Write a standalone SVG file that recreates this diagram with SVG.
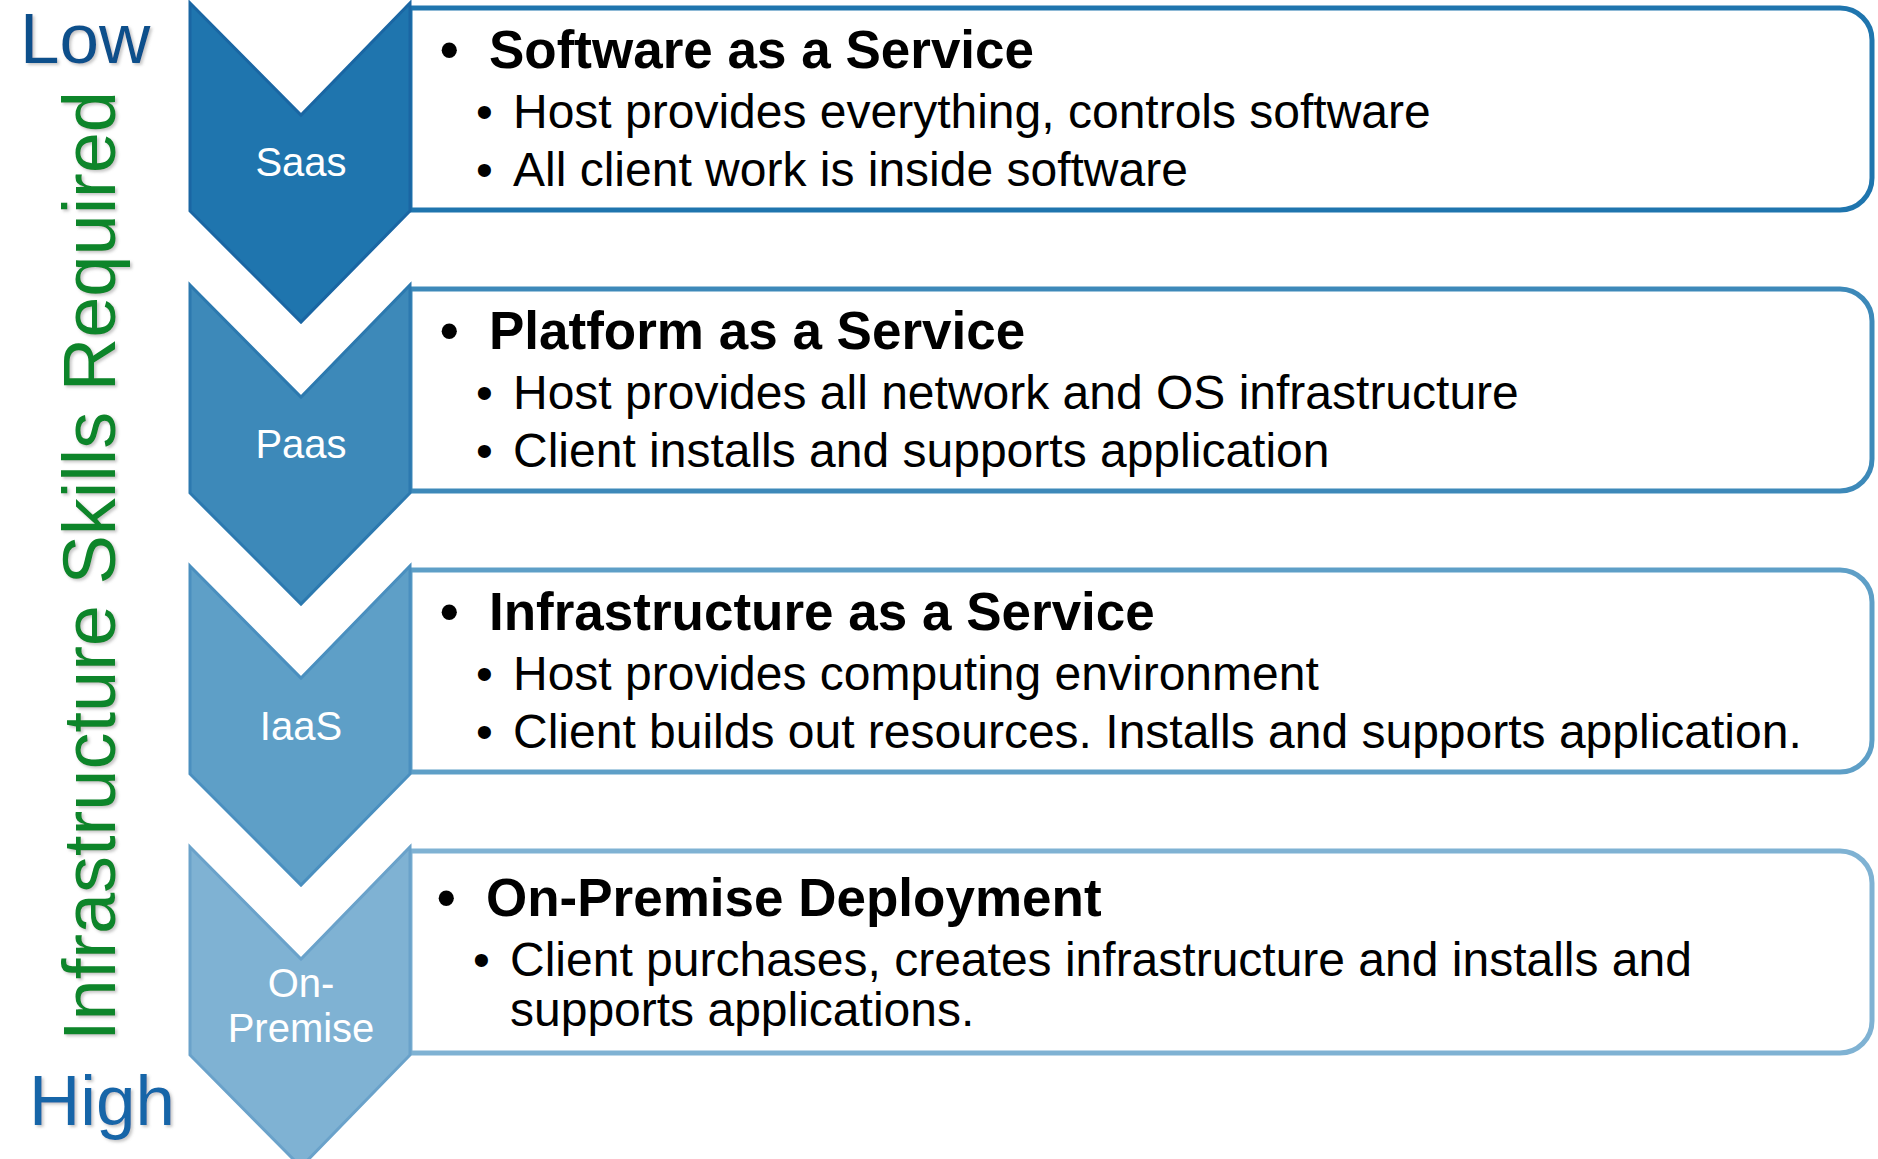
<svg xmlns="http://www.w3.org/2000/svg" width="1878" height="1159" viewBox="0 0 1878 1159">
  <defs>
    <filter id="shadow" x="-10%" y="-10%" width="130%" height="130%">
      <feDropShadow dx="2" dy="2" stdDeviation="1.5" flood-color="#808080" flood-opacity="0.45"/>
    </filter>
  </defs>
  <style>
    .box { fill: #ffffff; stroke-width: 5; }
    .chev { stroke-width: 3; stroke-linejoin: miter; }
    .clabel { font-family: "Liberation Sans", Arial, sans-serif; font-size: 40px; fill: #ffffff; text-anchor: middle; }
    .head { font-family: "Liberation Sans", Arial, sans-serif; font-size: 53px; font-weight: bold; fill: #000000; }
    .sub { font-family: "Liberation Sans", Arial, sans-serif; font-size: 48px; fill: #000000; }
    .side { font-family: "Liberation Sans", Arial, sans-serif; }
  </style>
  <rect x="0" y="0" width="1878" height="1159" fill="#ffffff"/>

  <g id="axis-labels" filter="url(#shadow)">
    <text class="side" x="20" y="63" font-size="71" fill="#0d4f8b">Low</text>
    <text class="side" x="29" y="1125" font-size="71" fill="#1565a8">High</text>
    <text class="side" transform="translate(115,566) rotate(-90)" text-anchor="middle" font-size="74" fill="#0a8529">Infrastructure Skills Required</text>
  </g>

  <g id="connectors"></g>

  <g id="saas">
    <path class="box" stroke="#1f75ae" d="M410,8 H1840 A32,32 0 0 1 1872,40 V178 A32,32 0 0 1 1840,210 H410 Z"/>
    <polygon class="chev" fill="#1f75ae" stroke="#1a66a3" points="190,3 301,115 410,3 410,211 301,322 190,211"/>
    <text class="clabel" x="301" y="176">Saas</text>
    <text class="head" x="440" y="68">•</text>
    <text class="head" x="489" y="68">Software as a Service</text>
    <text class="sub" x="476" y="128">•</text>
    <text class="sub" x="513" y="128">Host provides everything, controls software</text>
    <text class="sub" x="476" y="186">•</text>
    <text class="sub" x="513" y="186">All client work is inside software</text>
  </g>

  <g id="paas">
    <path class="box" stroke="#3d89b9" d="M410,289 H1840 A32,32 0 0 1 1872,321 V459 A32,32 0 0 1 1840,491 H410 Z"/>
    <polygon class="chev" fill="#3d89b9" stroke="#2c79af" points="190,285 301,397 410,285 410,493 301,604 190,493"/>
    <text class="clabel" x="301" y="458">Paas</text>
    <text class="head" x="440" y="349">•</text>
    <text class="head" x="489" y="349">Platform as a Service</text>
    <text class="sub" x="476" y="409">•</text>
    <text class="sub" x="513" y="409">Host provides all network and OS infrastructure</text>
    <text class="sub" x="476" y="467">•</text>
    <text class="sub" x="513" y="467">Client installs and supports application</text>
  </g>

  <g id="iaas">
    <path class="box" stroke="#5e9fc7" d="M410,570 H1840 A32,32 0 0 1 1872,602 V740 A32,32 0 0 1 1840,772 H410 Z"/>
    <polygon class="chev" fill="#5e9fc7" stroke="#4a8fbf" points="190,566 301,678 410,566 410,774 301,885 190,774"/>
    <text class="clabel" x="301" y="740">IaaS</text>
    <text class="head" x="440" y="630">•</text>
    <text class="head" x="489" y="630">Infrastructure as a Service</text>
    <text class="sub" x="476" y="690">•</text>
    <text class="sub" x="513" y="690">Host provides computing environment</text>
    <text class="sub" x="476" y="748">•</text>
    <text class="sub" x="513" y="748">Client builds out resources. Installs and supports application.</text>
  </g>

  <g id="on-premise">
    <path class="box" stroke="#7fb2d3" d="M410,851 H1840 A32,32 0 0 1 1872,883 V1021 A32,32 0 0 1 1840,1053 H410 Z"/>
    <polygon class="chev" fill="#7fb2d3" stroke="#6aa2ca" points="190,847 301,959 410,847 410,1055 301,1167 190,1055"/>
    <text class="clabel" x="301" y="997">On-</text>
    <text class="clabel" x="301" y="1042">Premise</text>
    <text class="head" x="437" y="916">•</text>
    <text class="head" x="486" y="916">On-Premise Deployment</text>
    <text class="sub" x="473" y="976">•</text>
    <text class="sub" x="510" y="976">Client purchases, creates infrastructure and installs and</text>
    <text class="sub" x="510" y="1026">supports applications.</text>
  </g>
</svg>
